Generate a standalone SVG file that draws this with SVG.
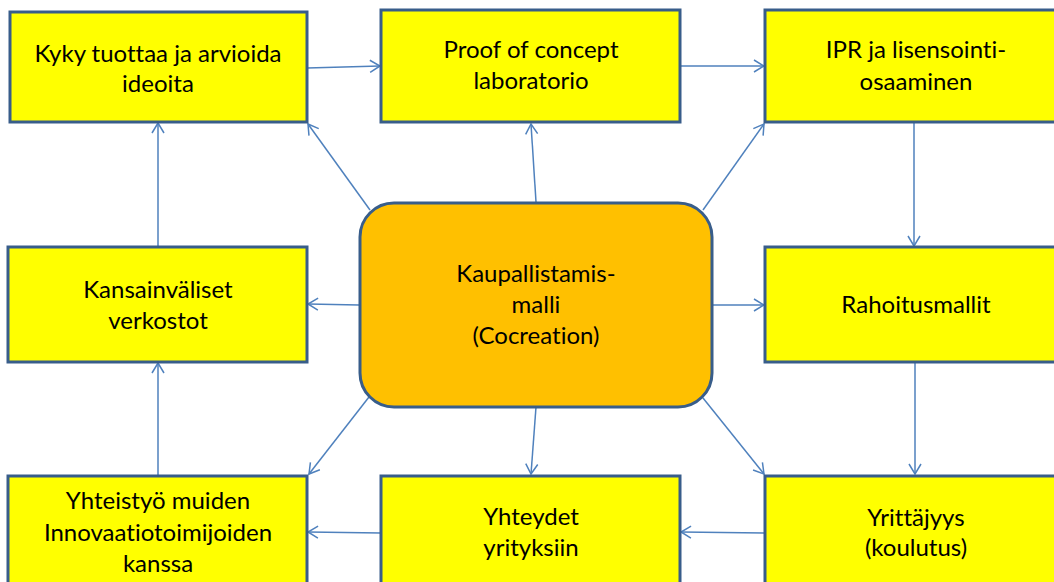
<svg xmlns="http://www.w3.org/2000/svg" width="1054" height="582" viewBox="0 0 1054 582">
<defs>
<style>
.box{fill:#FFFF00;stroke:#385D8A;stroke-width:3}
.core{fill:#FFC000;stroke:#385D8A;stroke-width:3}
.t{font-family:Lato,"Liberation Sans",sans-serif;font-size:24px;fill:#000;text-anchor:middle;font-variant-ligatures:none}
.c{fill:none;stroke:#4F81BD;stroke-width:1.5;marker-end:url(#ah)}
</style>
<marker id="ah" markerUnits="userSpaceOnUse" markerWidth="14" markerHeight="14" viewBox="0 0 14 14" refX="12" refY="7" orient="auto">
<path d="M2,1 L12,7 L2,13" fill="none" stroke="#4F81BD" stroke-width="1.5"/>
</marker>
</defs>
<rect width="1054" height="582" fill="#FFFFFF"/>
<g id="connectors">
<line class="c" x1="307" y1="68" x2="380" y2="66"/>
<line class="c" x1="680" y1="66" x2="764" y2="66"/>
<line class="c" x1="914" y1="122" x2="914" y2="246"/>
<line class="c" x1="915" y1="362" x2="915" y2="474"/>
<line class="c" x1="765" y1="533" x2="681" y2="532"/>
<line class="c" x1="381" y1="533" x2="308" y2="532"/>
<line class="c" x1="158" y1="476" x2="158" y2="363"/>
<line class="c" x1="158" y1="247" x2="158" y2="123"/>
<line class="c" x1="370" y1="210" x2="308" y2="124"/>
<line class="c" x1="536" y1="202" x2="531" y2="124"/>
<line class="c" x1="703" y1="210" x2="764" y2="124"/>
<line class="c" x1="359" y1="305" x2="308" y2="304"/>
<line class="c" x1="712" y1="305" x2="764" y2="305"/>
<line class="c" x1="369" y1="397" x2="309" y2="474"/>
<line class="c" x1="536" y1="407" x2="531" y2="474"/>
<line class="c" x1="703" y1="398" x2="764" y2="474"/>
</g>
<g id="n-kyky">
<rect class="box" x="10" y="12" width="297" height="110"/>
<text class="t" x="158" y="62">Kyky tuottaa ja arvioida</text>
<text class="t" x="158" y="92">ideoita</text>
</g>
<g id="n-proof">
<rect class="box" x="381" y="10" width="299" height="112"/>
<text class="t" x="531" y="58">Proof of concept</text>
<text class="t" x="531" y="89">laboratorio</text>
</g>
<g id="n-ipr">
<rect class="box" x="765" y="10" width="300" height="112"/>
<text class="t" x="916" y="58">IPR ja lisensointi-</text>
<text class="t" x="916" y="90">osaaminen</text>
</g>
<g id="n-kansainvaliset">
<rect class="box" x="8" y="247" width="299" height="115"/>
<text class="t" x="158" y="298">Kansainväliset</text>
<text class="t" x="158" y="329">verkostot</text>
</g>
<g id="n-center">
<rect class="core" x="360" y="203" width="352" height="204" rx="34" ry="34"/>
<text class="t" x="536" y="282">Kaupallistamis-</text>
<text class="t" x="536" y="313">malli</text>
<text class="t" x="536" y="344">(Cocreation)</text>
</g>
<g id="n-rahoitus">
<rect class="box" x="765" y="247" width="300" height="115"/>
<text class="t" x="916" y="313">Rahoitusmallit</text>
</g>
<g id="n-yhteistyo">
<rect class="box" x="8" y="476" width="299" height="120"/>
<text class="t" x="158" y="509">Yhteistyö muiden</text>
<text class="t" x="158" y="541">Innovaatiotoimijoiden</text>
<text class="t" x="158" y="572">kanssa</text>
</g>
<g id="n-yhteydet">
<rect class="box" x="381" y="476" width="299" height="120"/>
<text class="t" x="531" y="525">Yhteydet</text>
<text class="t" x="531" y="556">yrityksiin</text>
</g>
<g id="n-yrittajyys">
<rect class="box" x="765" y="476" width="300" height="120"/>
<text class="t" x="916" y="526">Yrittäjyys</text>
<text class="t" x="916" y="556">(koulutus)</text>
</g>
</svg>
